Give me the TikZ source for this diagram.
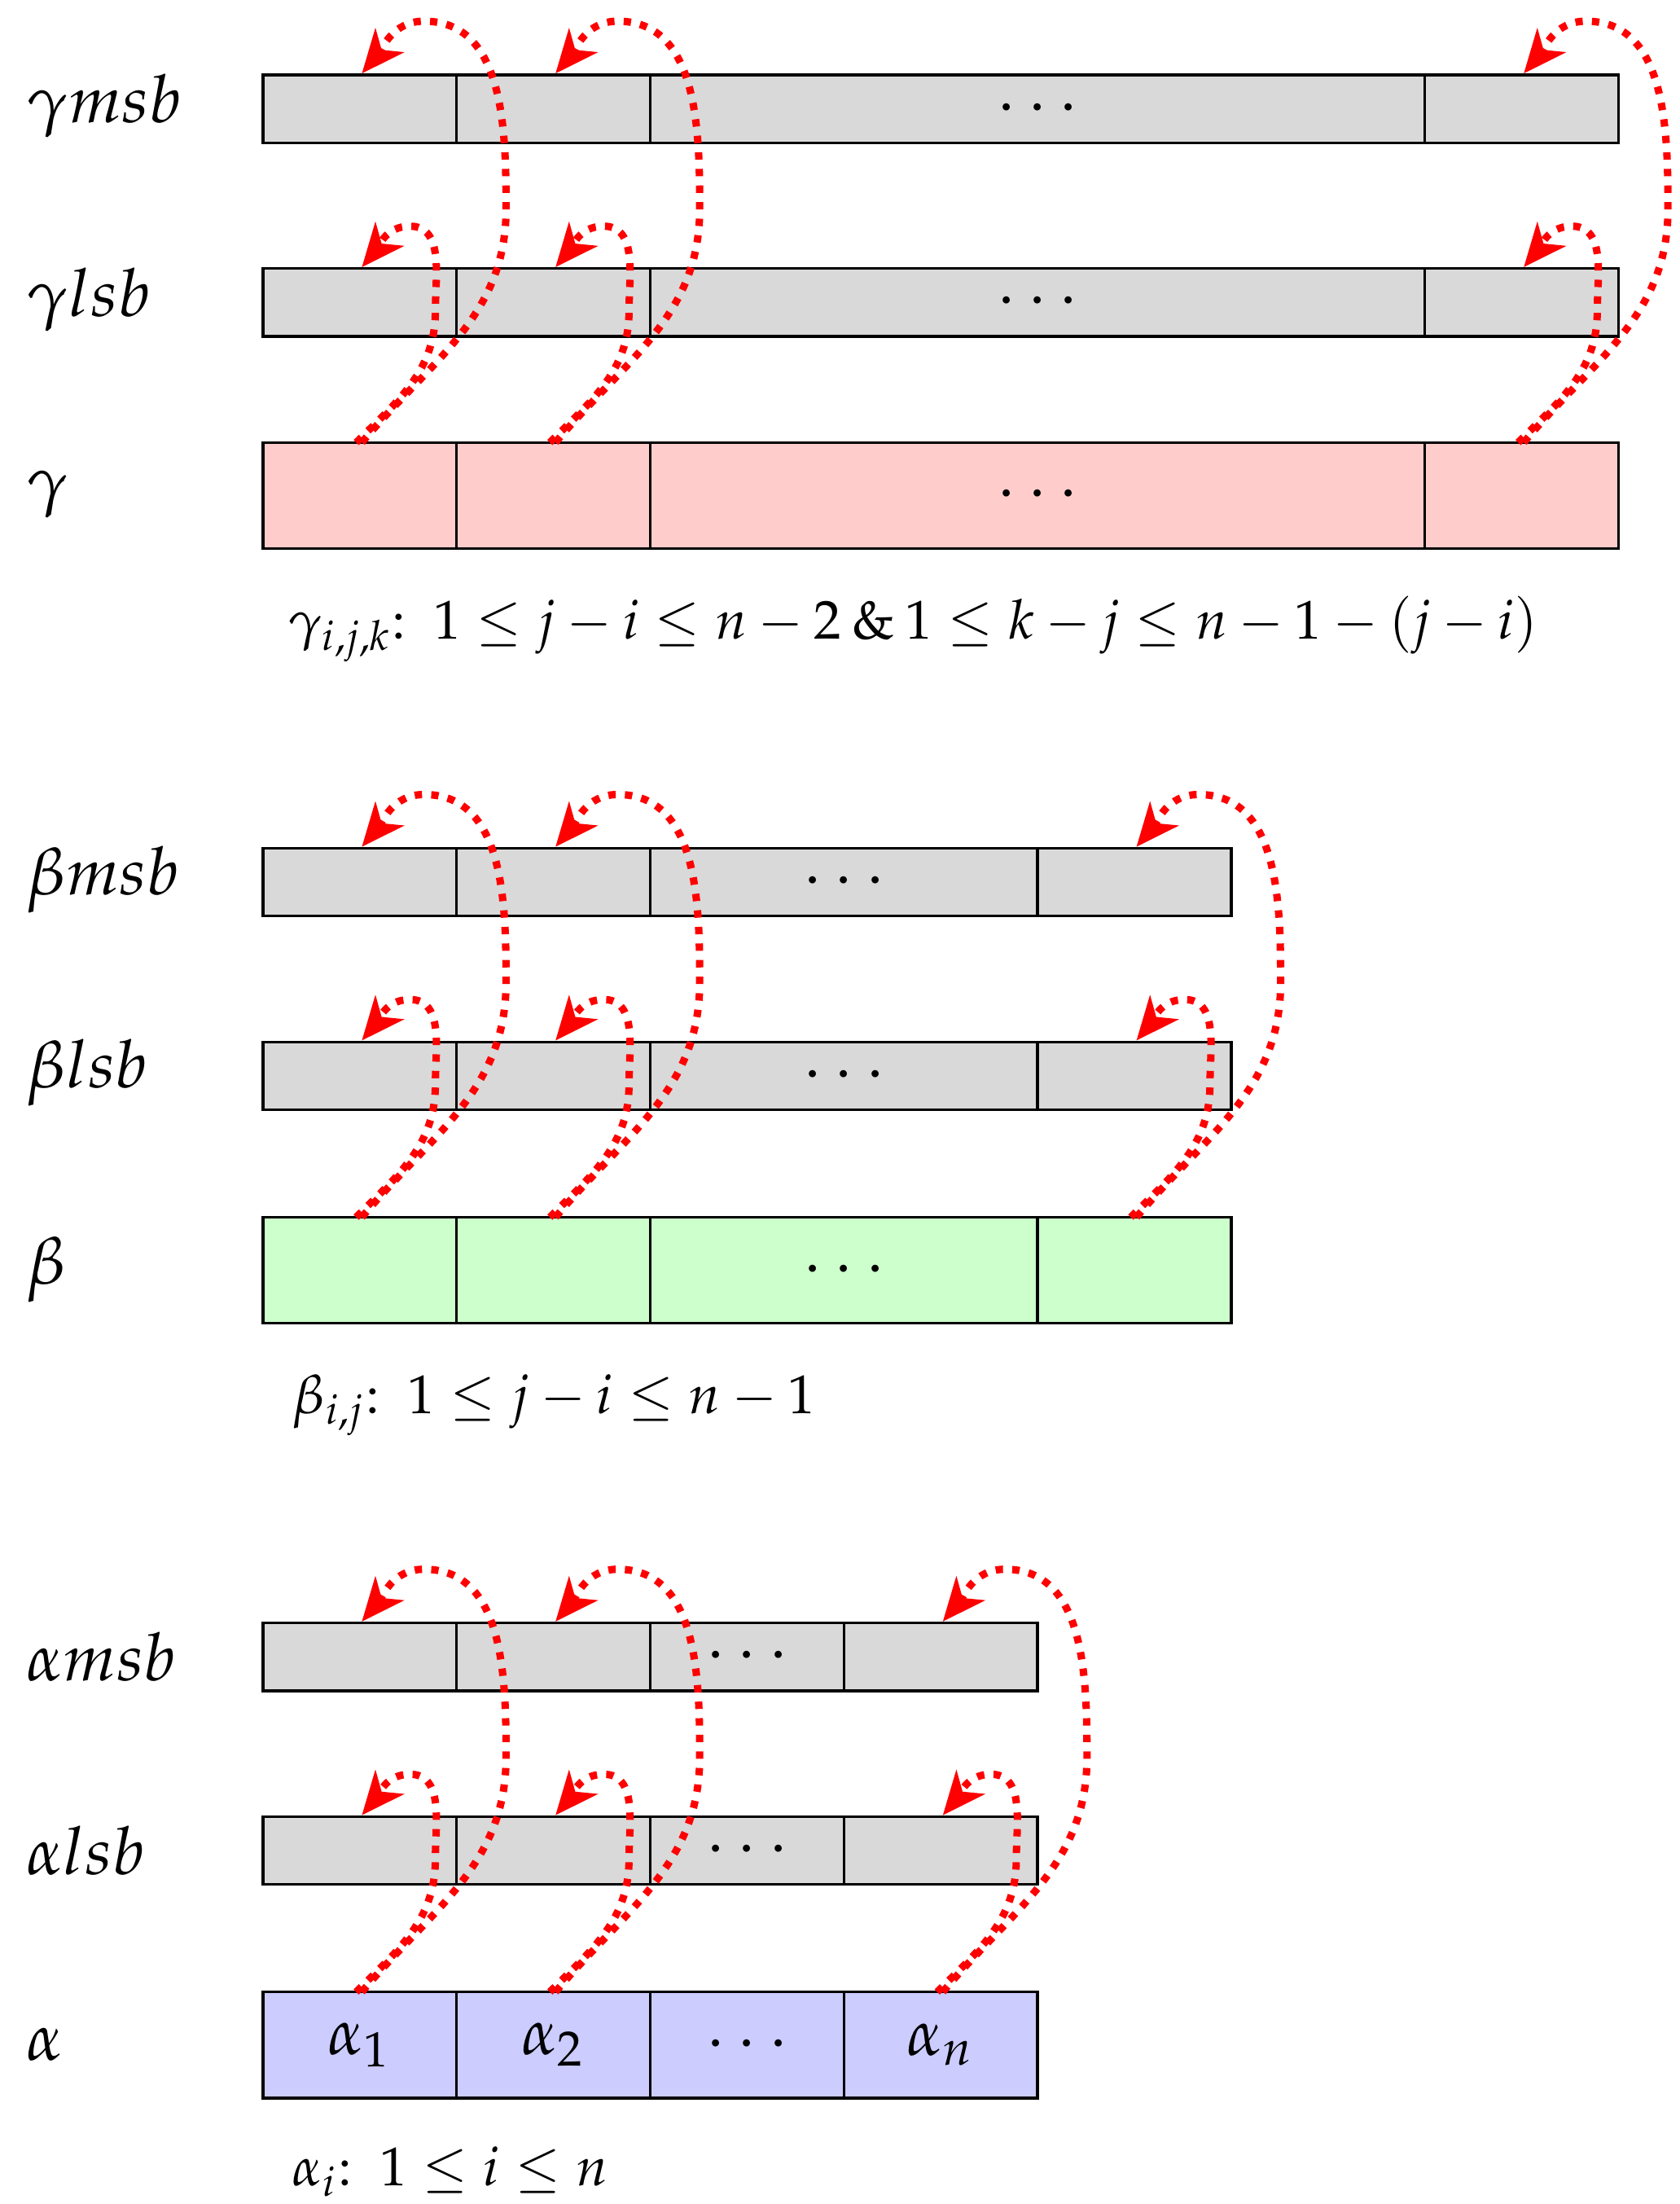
\documentclass[tikz,border=0pt]{standalone}
\usepackage{mathpazo}
\usetikzlibrary{arrows.meta}
\definecolor{cgray}{HTML}{D9D9D9}
\definecolor{cpink}{HTML}{FFCCCC}
\definecolor{cgreen}{HTML}{CCFFCC}
\definecolor{cblue}{HTML}{CCCCFF}
\tikzset{
 cellbox/.style={draw=black,line width=0.45pt,inner sep=0pt,minimum height=#1,font=\fontsize{10.6}{12}\selectfont},
 rowlabel/.style={anchor=west,inner sep=0pt,font=\fontsize{10.8}{12}\selectfont},
 condtext/.style={anchor=base west,inner sep=0pt,font=\fontsize{8.9}{11}\selectfont},
 loop/.style={red,line width=1.2pt,dash pattern=on 1.2pt off 1.5pt,-{Stealth[length=7pt,width=6pt,inset=2pt]}},
}
\newcommand{\rowcells}[5]{%
 \foreach \xa/\xb/\t [count=\k] in {#5}{
  \node[cellbox=#3*0.23pt,fill=#4,minimum width=(\xb-\xa)*0.23pt] (#1\k) at ({(\xa+\xb)/2},{#2+#3/2}) {$\t$};
 }}
\newcommand{\arcs}[4]{%
 \draw[loop] (#1+70,#4) to[out=50,in=-90] (#1+172,#2+95) to[out=90,in=0] (#1+114,#2-38) to[out=180,in=50] (#1+70,#2-1);
 \draw[loop] (#1+66,#4) to[out=45,in=-90] (#1+122,#3+30) to[out=90,in=0] (#1+104,#3-30) to[out=180,in=50] (#1+70,#3-1);
}
\begin{document}
\begin{tikzpicture}[x=0.23pt,y=-0.23pt]
\useasboundingbox (0,0) rectangle (1188,1559);
% gamma
\rowcells{gm}{53}{48}{cgray}{186/323/,323/460/,460/1008/\cdots,1008/1145/}
\rowcells{gl}{190}{48}{cgray}{186/323/,323/460/,460/1008/\cdots,1008/1145/}
\rowcells{g}{313}{75}{cpink}{186/323/,323/460/,460/1008/\cdots,1008/1145/}
\node[rowlabel] (lgm) at (18,75) {$\gamma msb$};
\node[rowlabel] (lgl) at (18,212) {$\gamma lsb$};
\node[rowlabel] (lg) at (18,350) {$\gamma$};
\node[condtext] (tg) at (203,452) {$\gamma_{i,j,k}\colon\ 1 \le j-i \le n-2 \mathbin{\&} 1 \le k-j \le n-1-(j-i)$};
\foreach \x in {186,323,1008}{\arcs{\x}{53}{190}{313}}
% beta
\rowcells{bm}{600}{48}{cgray}{186/323/,323/460/,460/734/\cdots,734/871/}
\rowcells{bl}{737}{48}{cgray}{186/323/,323/460/,460/734/\cdots,734/871/}
\rowcells{b}{861}{75}{cgreen}{186/323/,323/460/,460/734/\cdots,734/871/}
\node[rowlabel] (lbm) at (18,622) {$\beta msb$};
\node[rowlabel] (lbl) at (18,759) {$\beta lsb$};
\node[rowlabel] (lb) at (18,898) {$\beta$};
\node[condtext] (tb) at (206,1000) {$\beta_{i,j}\colon\ 1 \le j-i \le n-1$};
\foreach \x in {186,323,734}{\arcs{\x}{600}{737}{861}}
% alpha
\rowcells{am}{1148}{48}{cgray}{186/323/,323/460/,460/597/\cdots,597/734/}
\rowcells{al}{1285}{48}{cgray}{186/323/,323/460/,460/597/\cdots,597/734/}
\rowcells{a}{1409}{75}{cblue}{186/323/\alpha_1,323/460/\alpha_2,460/597/\cdots,597/734/\alpha_n}
\node[rowlabel] (lam) at (18,1172) {$\alpha msb$};
\node[rowlabel] (lal) at (18,1309) {$\alpha lsb$};
\node[rowlabel] (la) at (18,1446) {$\alpha$};
\node[condtext] (ta) at (206,1546) {$\alpha_i\colon\ 1 \le i \le n$};
\foreach \x in {186,323,597}{\arcs{\x}{1148}{1285}{1409}}
\end{tikzpicture}
\end{document}
